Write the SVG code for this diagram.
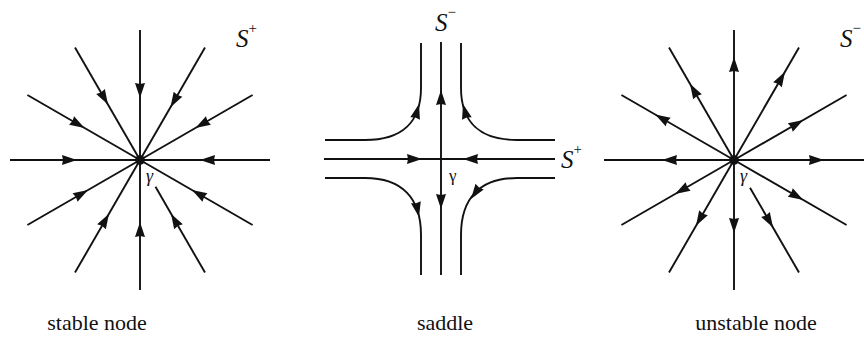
<svg xmlns="http://www.w3.org/2000/svg" xmlns:xlink="http://www.w3.org/1999/xlink" width="864" height="337" viewBox="0 0 864 337">
<style>
.ln{stroke:#111;stroke-width:1.9;fill:none}
.lbl{font-family:"Liberation Serif","DejaVu Serif","Noto Serif",serif;font-size:22px;fill:#111;text-anchor:middle}
.S{font-family:"Liberation Serif","DejaVu Serif","Noto Serif",serif;font-style:italic;font-size:25px;fill:#111}
.sup{font-style:normal;font-size:15px}
.g{font-family:"Liberation Serif","DejaVu Serif","Noto Serif",serif;font-style:italic;font-size:18px;fill:#111}
.gu{font-family:"Liberation Serif","DejaVu Serif","Noto Serif",serif;font-size:17px;fill:#111}
</style>
<defs>
<polygon id="ah" points="0,0 -15,-5 -14,0 -15,5" fill="#111"/>
</defs>
<rect width="864" height="337" fill="#fff"/>

<g id="stable-node">
<g id="stable-rays" class="ln" transform="translate(140,160)">
<line x2="130" transform="rotate(0)"/>
<line x2="130" transform="rotate(30)"/>
<line x1="31" x2="130" transform="rotate(60)"/>
<line x2="130" transform="rotate(90)"/>
<line x2="130" transform="rotate(120)"/>
<line x2="130" transform="rotate(150)"/>
<line x2="130" transform="rotate(180)"/>
<line x2="130" transform="rotate(210)"/>
<line x2="130" transform="rotate(240)"/>
<line x2="130" transform="rotate(270)"/>
<line x2="130" transform="rotate(300)"/>
<line x2="130" transform="rotate(330)"/>
</g>
<g id="stable-arrows" transform="translate(140,160)">
<use xlink:href="#ah" transform="rotate(0) translate(60,0) rotate(180)"/>
<use xlink:href="#ah" transform="rotate(30) translate(60,0) rotate(180)"/>
<use xlink:href="#ah" transform="rotate(60) translate(62,0) rotate(180)"/>
<use xlink:href="#ah" transform="rotate(90) translate(62,0) rotate(180)"/>
<use xlink:href="#ah" transform="rotate(120) translate(62,0) rotate(180)"/>
<use xlink:href="#ah" transform="rotate(150) translate(60,0) rotate(180)"/>
<use xlink:href="#ah" transform="rotate(180) translate(63,0) rotate(180)"/>
<use xlink:href="#ah" transform="rotate(210) translate(64,0) rotate(180)"/>
<use xlink:href="#ah" transform="rotate(240) translate(64,0) rotate(180)"/>
<use xlink:href="#ah" transform="rotate(270) translate(62,0) rotate(180)"/>
<use xlink:href="#ah" transform="rotate(300) translate(61,0) rotate(180)"/>
<use xlink:href="#ah" transform="rotate(330) translate(64,0) rotate(180)"/>
</g>
<circle cx="140" cy="160" r="4.8" fill="#111"/>
<text class="g" x="146" y="182">γ</text>
<text class="S" x="236" y="47">S<tspan class="sup" dy="-14">+</tspan></text>
<text class="lbl" x="97" y="330">stable node</text>
</g>

<g id="saddle">
<g id="saddle-lines" class="ln">
<line x1="441" y1="42" x2="441" y2="275"/>
<line x1="324" y1="159" x2="555" y2="159"/>
<path d="M325,140 L365,140 C402,140 421,122 421,88 L421,43"/>
<path d="M555,140 L517,140 C480,140 461,122 461,88 L461,43"/>
<path d="M325,178 L365,178 C402,178 421,198 421,235 L421,275"/>
<path d="M555,178 L517,178 C480,178 461,198 461,235 L461,275"/>
</g>
<g id="saddle-arrows">
<use xlink:href="#ah" transform="translate(441,90) rotate(-90)"/>
<use xlink:href="#ah" transform="translate(441,209) rotate(90)"/>
<use xlink:href="#ah" transform="translate(422,159) rotate(0)"/>
<use xlink:href="#ah" transform="translate(463,159) rotate(180)"/>
<use xlink:href="#ah" transform="translate(419,104) rotate(-75)"/>
<use xlink:href="#ah" transform="translate(463,104) rotate(-105)"/>
<use xlink:href="#ah" transform="translate(419,217) rotate(78)"/>
<use xlink:href="#ah" transform="translate(471,199) rotate(125)"/>
</g>
<text class="gu" x="449" y="181">γ</text>
<text class="S" x="435" y="31">S<tspan class="sup" dy="-14">−</tspan></text>
<text class="S" x="561" y="168">S<tspan class="sup" dy="-14">+</tspan></text>
<text class="lbl" x="445" y="330">saddle</text>
</g>

<g id="unstable-node">
<g id="unstable-rays" class="ln" transform="translate(734,160)">
<line x2="130" transform="rotate(0)"/>
<line x2="130" transform="rotate(30)"/>
<line x1="32" x2="130" transform="rotate(60)"/>
<line x2="130" transform="rotate(90)"/>
<line x2="130" transform="rotate(120)"/>
<line x2="130" transform="rotate(150)"/>
<line x2="130" transform="rotate(180)"/>
<line x2="130" transform="rotate(210)"/>
<line x2="130" transform="rotate(240)"/>
<line x2="130" transform="rotate(270)"/>
<line x2="130" transform="rotate(300)"/>
<line x2="130" transform="rotate(330)"/>
</g>
<g id="unstable-arrows" transform="translate(734,160)">
<use xlink:href="#ah" transform="rotate(0) translate(90,0)"/>
<use xlink:href="#ah" transform="rotate(30) translate(80,0)"/>
<use xlink:href="#ah" transform="rotate(60) translate(78,0)"/>
<use xlink:href="#ah" transform="rotate(90) translate(73,0)"/>
<use xlink:href="#ah" transform="rotate(120) translate(76,0)"/>
<use xlink:href="#ah" transform="rotate(150) translate(68,0)"/>
<use xlink:href="#ah" transform="rotate(180) translate(72,0)"/>
<use xlink:href="#ah" transform="rotate(210) translate(91,0)"/>
<use xlink:href="#ah" transform="rotate(240) translate(88,0)"/>
<use xlink:href="#ah" transform="rotate(270) translate(103,0)"/>
<use xlink:href="#ah" transform="rotate(300) translate(102,0)"/>
<use xlink:href="#ah" transform="rotate(330) translate(80,0)"/>
</g>
<circle cx="734" cy="160" r="4.8" fill="#111"/>
<text class="g" x="740" y="182">γ</text>
<text class="S" x="840" y="47">S<tspan class="sup" dy="-14">−</tspan></text>
<text class="lbl" x="756" y="330">unstable node</text>
</g>
</svg>
